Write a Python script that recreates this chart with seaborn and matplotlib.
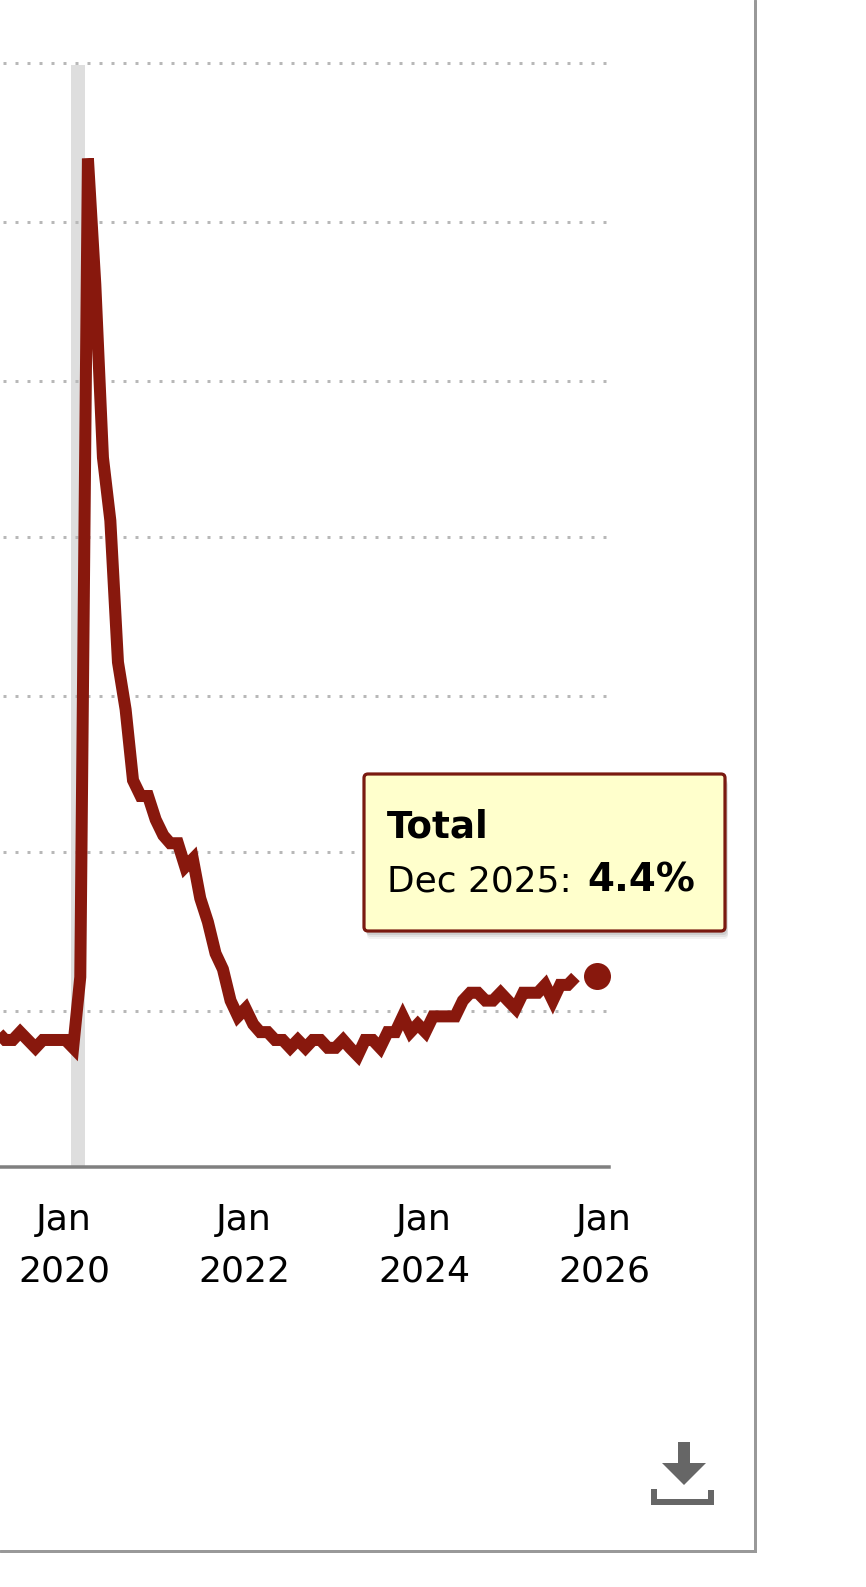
import numpy as np
import pandas as pd
import matplotlib
matplotlib.use("Agg")
import matplotlib.pyplot as plt
import matplotlib.dates as mdates
from matplotlib.patches import FancyBboxPatch, Polygon
from matplotlib.transforms import ScaledTranslation
import seaborn as sns

# ---- data ----
START_MONTH = "2019-04-01"
RATES = [
    3.7, 3.6, 3.6, 3.7, 3.6, 3.5, 3.6, 3.6, 3.6,            # Apr-Dec 2019
    3.6, 3.5, 4.4, 14.8, 13.2, 11.0, 10.2, 8.4, 7.8, 6.9, 6.7, 6.7,  # 2020
    6.4, 6.2, 6.1, 6.1, 5.8, 5.9, 5.4, 5.1, 4.7, 4.5, 4.1, 3.9,      # 2021
    4.0, 3.8, 3.7, 3.7, 3.6, 3.6, 3.5, 3.6, 3.5, 3.6, 3.6, 3.5,      # 2022
    3.5, 3.6, 3.5, 3.4, 3.6, 3.6, 3.5, 3.7, 3.7, 3.9, 3.7, 3.8,      # 2023
    3.7, 3.9, 3.9, 3.9, 3.9, 4.1, 4.2, 4.2, 4.1, 4.1, 4.2, 4.1,      # 2024
    4.0, 4.2, 4.2, 4.2, 4.3, 4.1, 4.3, 4.3, 4.4,                     # Jan-Sep 2025
]
LAST_DATE = "2025-11-29"
LAST_RATE = 4.41
RECESSION = ("2020-01-22", "2020-03-21")
TICK_DATES = ["2020-01-01", "2022-01-01", "2024-01-01", "2026-01-01"]
TICK_LABELS = ["Jan\n2020", "Jan\n2022", "Jan\n2024", "Jan\n2026"]
Y_GRID = [3.968, 5.988, 7.97, 9.99, 11.97, 13.99, 16.01]
TOOLTIP_TITLE = "Total"
TOOLTIP_DATE = "Dec 2025:"
TOOLTIP_VALUE = "4.4%"

# ---- styling ----
W, H = 866, 1587
DPI = 100
px = 72 / DPI
LINE = "#88180d"

sns.set_theme(style="white")
plt.rcParams["font.family"] = ["DejaVu Sans"]

fig = plt.figure(figsize=(W / DPI, H / DPI), dpi=DPI, facecolor="white")

AX_R, AX_TOP, AX_BOT = 609, 50, 1167
ax = fig.add_axes([0, 1 - AX_BOT / H, AX_R / W, (AX_BOT - AX_TOP) / H])
ax.set_facecolor("none")

df = pd.DataFrame({"date": pd.date_range(START_MONTH, periods=len(RATES), freq="MS"), "rate": RATES})
df_last = pd.DataFrame({"date": [pd.Timestamp(LAST_DATE)], "rate": [LAST_RATE]})

sns.lineplot(data=df, x="date", y="rate", ax=ax, color=LINE, linewidth=12 * px,
             estimator=None, solid_joinstyle="miter", solid_capstyle="butt", zorder=4)
sns.scatterplot(data=df_last, x="date", y="rate", ax=ax, color=LINE, s=(27 * px) ** 2,
                linewidth=0, zorder=5, clip_on=False)

# scales: y pixel = 1323.3 - 78.7 * value; 90 px per year, Jan 2020 at x=65.5
Y_A, Y_B = 1323.3, 78.7
ax.set_ylim((Y_A - AX_BOT) / Y_B, (Y_A - AX_TOP) / Y_B)
d0 = mdates.date2num(pd.Timestamp("2020-01-01"))
per_px = (mdates.date2num(pd.Timestamp("2026-01-01")) - d0) / 540
X0 = 65.5
ax.set_xlim(d0 - X0 * per_px, d0 + (AX_R - X0) * per_px)

ax.axvspan(pd.Timestamp(RECESSION[0]), pd.Timestamp(RECESSION[1]), ymin=0,
           ymax=(AX_BOT - 65) / (AX_BOT - AX_TOP), color="#dedede", lw=0, zorder=1)

ax.set_yticks(Y_GRID)
ax.tick_params(axis="y", left=False, labelleft=False)
ax.yaxis.grid(True, color="#b8b8b8", linewidth=3 * px, linestyle=(3, (1, 3)), zorder=2)
ax.xaxis.grid(False)
ax.set_axisbelow(False)
for ln in ax.get_ygridlines():
    ln.set_zorder(2)
    ln.set_dash_capstyle("butt")

ax.set_xticks([pd.Timestamp(d) for d in TICK_DATES])
ax.set_xticklabels(TICK_LABELS, fontsize=26.1, color="black", linespacing=1.66)
ax.tick_params(axis="x", bottom=False, pad=20)
shift = ScaledTranslation(-1.4 / DPI, 0, fig.dpi_scale_trans)
for lab in ax.get_xticklabels():
    lab.set_transform(lab.get_transform() + shift)
ax.set_xlabel("")
ax.set_ylabel("")
for s in ("top", "left", "right"):
    ax.spines[s].set_visible(False)
ax.spines["bottom"].set_color("#808080")
ax.spines["bottom"].set_linewidth(3.5 * px)
ax.spines["bottom"].set_zorder(3)

# overlay in pixel coordinates for chrome
ov = fig.add_axes([0, 0, 1, 1], facecolor="none")
ov.set_xlim(0, W)
ov.set_ylim(H, 0)
ov.axis("off")

# frame
ov.plot([0, 754.5, 754.5], [1550.5, 1550.5, 0], color="#999999", lw=3 * px, solid_joinstyle="miter")

# tooltip
bx, by, bw, bh = 364, 774, 361, 157
for dx, dy, alpha in ((3, 8, 0.07), (3, 6, 0.10), (2, 4, 0.14)):
    ov.add_patch(FancyBboxPatch((bx + dx, by + dy), bw, bh, boxstyle="round,pad=0,rounding_size=4",
                                fc="#555555", ec="none", alpha=alpha, mutation_aspect=1))
ov.add_patch(FancyBboxPatch((bx, by), bw, bh, boxstyle="round,pad=0,rounding_size=4",
                            fc="#ffffcc", ec="#7a1a10", lw=3.2 * px, mutation_aspect=1))
ov.text(387, 837.5, TOOLTIP_TITLE, fontsize=26.8, fontweight="bold", va="baseline", ha="left", color="black")
ov.text(387, 891, TOOLTIP_DATE, fontsize=25.9, va="baseline", ha="left", color="black")
ov.text(587, 891, TOOLTIP_VALUE, fontsize=28, fontweight="bold", va="baseline", ha="left", color="black")

# download icon
ICON = "#666666"
ov.add_patch(Polygon([(678, 1442), (690, 1442), (690, 1463), (706, 1463), (684, 1485), (662, 1463), (678, 1463)],
                     closed=True, fc=ICON, ec="none"))
ov.add_patch(Polygon([(651, 1489), (657, 1489), (657, 1499), (708, 1499), (708, 1490), (714, 1490), (714, 1505), (651, 1505)],
                     closed=True, fc=ICON, ec="none"))

fig.savefig("out.png", dpi=DPI, facecolor="white")
